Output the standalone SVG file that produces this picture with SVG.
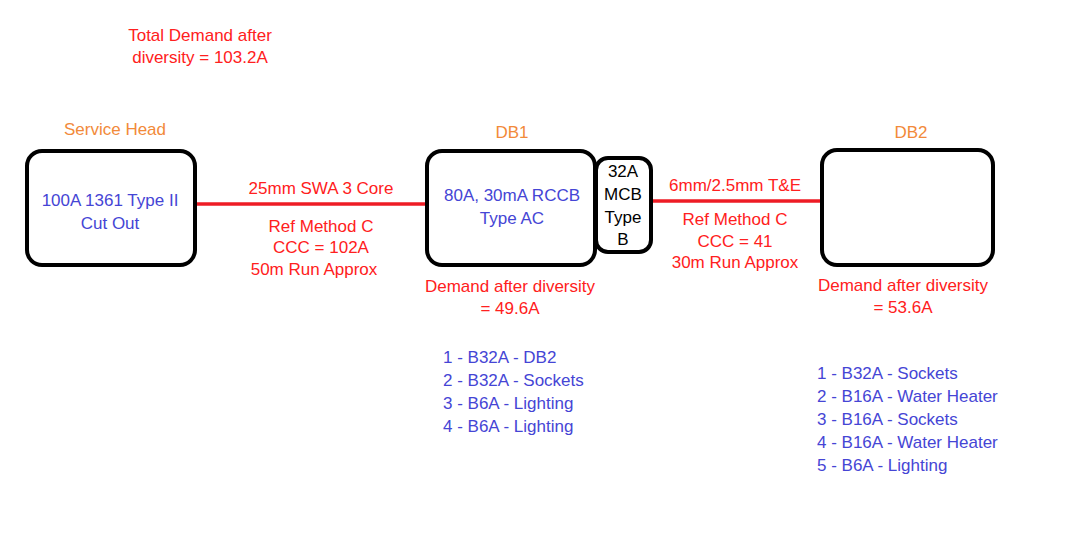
<svg xmlns="http://www.w3.org/2000/svg" width="1081" height="533" viewBox="0 0 1081 533">
<style>
text{font-family:"Liberation Sans",Arial,sans-serif;font-size:17px}
.c{text-anchor:middle}
.r{fill:#FF2020}
.b{fill:#4545D5}
.o{fill:#F28A3A}
.k{fill:#000}
.box{fill:#fff;stroke:#000;stroke-width:4}
.wire{stroke:#EE1C25;stroke-width:3.5;fill:none}
</style>
<rect width="1081" height="533" fill="#fff"/>
<g id="connectors">
<line class="wire" x1="195" y1="204" x2="427" y2="204"/>
<line class="wire" x1="651" y1="201" x2="822" y2="201"/>
</g>
<g id="total">
<text class="c r" x="200" y="41">Total Demand after</text>
<text class="c r" x="200" y="63">diversity = 103.2A</text>
</g>
<g id="service-head">
<text class="c o" x="115" y="135">Service Head</text>
<rect class="box" x="27" y="151" width="168" height="114" rx="15"/>
<text class="c b" x="110" y="206">100A 1361 Type II</text>
<text class="c b" x="110" y="229">Cut Out</text>
</g>
<g id="cable1">
<text class="c r" x="321" y="194">25mm SWA 3 Core</text>
<text class="c r" x="321" y="232">Ref Method C</text>
<text class="c r" x="321" y="253">CCC = 102A</text>
<text class="c r" x="314" y="275">50m Run Approx</text>
</g>
<g id="db1">
<text class="c o" x="512" y="138">DB1</text>
<rect class="box" x="427" y="151" width="168" height="114" rx="15"/>
<text class="c b" x="512" y="201">80A, 30mA RCCB</text>
<text class="c b" x="512" y="224">Type AC</text>
<text class="c r" x="510" y="292">Demand after diversity</text>
<text class="c r" x="510" y="314">= 49.6A</text>
<text class="b" x="443" y="363">1 - B32A - DB2</text>
<text class="b" x="443" y="386">2 - B32A - Sockets</text>
<text class="b" x="443" y="409">3 - B6A - Lighting</text>
<text class="b" x="443" y="432">4 - B6A - Lighting</text>
</g>
<g id="mcb">
<rect class="box" x="596" y="158" width="55" height="94" rx="12"/>
<text class="c k" x="623" y="177">32A</text>
<text class="c k" x="623" y="200">MCB</text>
<text class="c k" x="623" y="223">Type</text>
<text class="c k" x="623" y="245">B</text>
</g>
<g id="cable2">
<text class="c r" x="735" y="191">6mm/2.5mm T&amp;E</text>
<text class="c r" x="735" y="225">Ref Method C</text>
<text class="c r" x="735" y="247">CCC = 41</text>
<text class="c r" x="735" y="268">30m Run Approx</text>
</g>
<g id="db2">
<text class="c o" x="911" y="138">DB2</text>
<rect class="box" x="822" y="150" width="171" height="115" rx="15"/>
<text class="c r" x="903" y="291">Demand after diversity</text>
<text class="c r" x="903" y="313">= 53.6A</text>
<text class="b" x="817" y="379">1 - B32A - Sockets</text>
<text class="b" x="817" y="402">2 - B16A - Water Heater</text>
<text class="b" x="817" y="425">3 - B16A - Sockets</text>
<text class="b" x="817" y="448">4 - B16A - Water Heater</text>
<text class="b" x="817" y="471">5 - B6A - Lighting</text>
</g>
</svg>
